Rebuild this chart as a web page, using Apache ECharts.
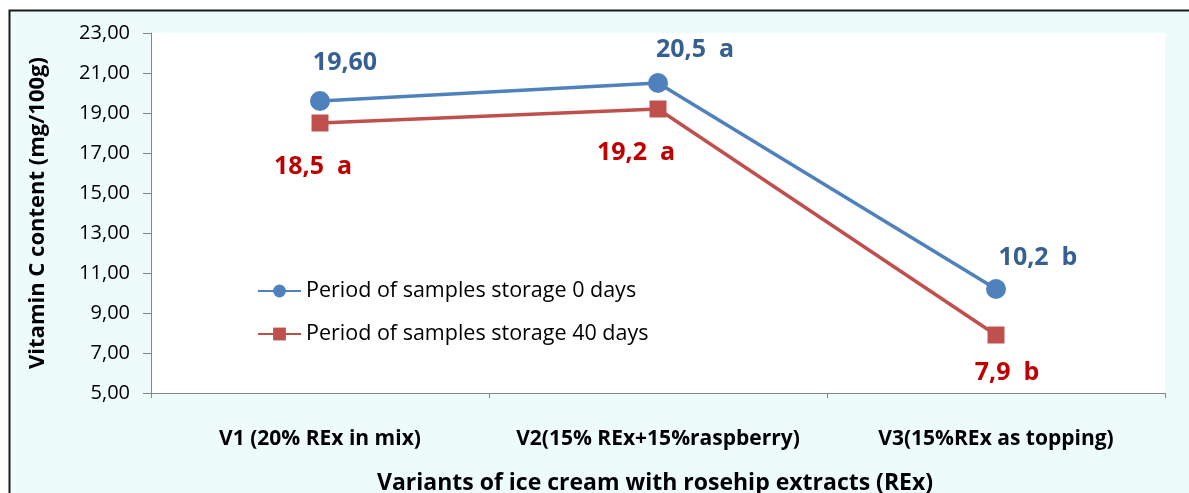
<!DOCTYPE html>
<html>
<head>
<meta charset="utf-8">
<script src="https://cdn.jsdelivr.net/npm/echarts@6/dist/echarts.min.js"></script>
<style>
  html, body { margin: 0; padding: 0; background: #ffffff; }
  #chart { width: 1189px; height: 493px; }
</style>
</head>
<body>
<div id="chart"></div>
<script>
// Ice cream variants with rosehip extracts (REx)
const categories = ['V1 (20% REx in mix)', 'V2(15% REx+15%raspberry)', 'V3(15%REx as topping)'];

// Vitamin C content, mg/100g
const storage0Days = [19.6, 20.5, 10.2];
const storage40Days = [18.5, 19.2, 7.9];

// Significance letters shown after each value
const letters0Days = ['', 'a', 'b'];
const letters40Days = ['a', 'a', 'b'];
// Decimal places printed in each value label
const decimals0Days = [2, 1, 1];
const decimals40Days = [1, 1, 1];

const yTicks = { min: 5, max: 23, step: 2 };

const FONT = '"Open Sans"';
const BLUE = '#4F81BD', BLUE_TEXT = '#376092';
const RED = '#C0504D', RED_TEXT = '#C00000';

// label placement per point (pixel offsets from the marker)
const offsets0 = [[25, -38], [37, -33], [42, -31]];
const offsets40 = [[-7, 44], [-22, 44], [11, 38]];

function fmt(v, d) { return v.toFixed(d).replace('.', ','); }

function buildData(values, letters, decs, offs, color) {
  return values.map((v, i) => ({
    value: v,
    label: {
      show: true,
      position: 'inside',
      offset: offs[i],
      formatter: fmt(v, decs[i]) + (letters[i] ? '  ' + letters[i] : ''),
      color: color,
      fontFamily: FONT,
      fontWeight: 'bold',
      fontSize: 25
    }
  }));
}

const chart = echarts.init(document.getElementById('chart'), null, { renderer: 'canvas' });

chart.setOption({
  animation: false,
  backgroundColor: '#ffffff',
  graphic: [
    {
      type: 'rect',
      z: -10,
      shape: { x: 9.5, y: 10.5, width: 1300, height: 600 },
      style: { fill: '#EEFBFB', stroke: '#1a1a1a', lineWidth: 2 }
    },
    {
      type: 'rect',
      z: -9,
      shape: { x: 151, y: 33, width: 1014, height: 360 },
      style: { fill: '#ffffff' }
    }
  ],
  grid: { left: 151, right: 24, top: 33, bottom: 100, containLabel: false, outerBoundsMode: 'none' },
  legend: {
    orient: 'vertical',
    left: 257,
    top: 280,
    padding: 0,
    itemGap: 21,
    itemWidth: 43,
    itemHeight: 16,
    textStyle: { fontFamily: FONT, fontSize: 21.5, lineHeight: 20, color: '#000' },
    data: ['Period of samples storage 0 days', 'Period of samples storage 40 days']
  },
  xAxis: {
    type: 'category',
    data: categories,
    boundaryGap: true,
    name: 'Variants of ice cream with rosehip extracts (REx) ',
    nameLocation: 'middle',
    nameGap: 79,
    nameTextStyle: { fontFamily: FONT, fontWeight: 'bold', fontSize: 23, color: '#000' },
    axisLine: { lineStyle: { color: '#868686', width: 1 } },
    axisTick: { show: true, length: 5, lineStyle: { color: '#868686' } },
    axisLabel: {
      interval: 0, hideOverlap: false,
      fontFamily: FONT, fontWeight: 'bold', fontSize: 21, color: '#000', margin: 36
    },
    splitLine: { show: false }
  },
  yAxis: {
    type: 'value',
    min: yTicks.min,
    max: yTicks.max,
    interval: yTicks.step,
    name: 'Vitamin C content (mg/100g)',
    nameLocation: 'middle',
    nameRotate: 90,
    nameGap: 102,
    nameTextStyle: { fontFamily: FONT, fontWeight: 'bold', fontSize: 22, color: '#000' },
    axisLine: { show: true, lineStyle: { color: '#868686', width: 1 } },
    axisTick: { show: true, length: 8, lineStyle: { color: '#868686' } },
    axisLabel: {
      fontFamily: FONT, fontSize: 20, color: '#000', margin: 21,
      formatter: v => fmt(v, 2)
    },
    splitLine: { show: false }
  },
  series: [
    {
      name: 'Period of samples storage 0 days',
      type: 'line',
      data: buildData(storage0Days, letters0Days, decimals0Days, offsets0, BLUE_TEXT),
      symbol: 'circle',
      symbolSize: 20,
      lineStyle: { color: BLUE, width: 3.5 },
      itemStyle: { color: BLUE },
      z: 3
    },
    {
      name: 'Period of samples storage 40 days',
      type: 'line',
      data: buildData(storage40Days, letters40Days, decimals40Days, offsets40, RED_TEXT),
      symbol: 'rect',
      symbolSize: 17,
      lineStyle: { color: RED, width: 3.5 },
      itemStyle: { color: RED },
      z: 2
    }
  ]
});
</script>
</body>
</html>
